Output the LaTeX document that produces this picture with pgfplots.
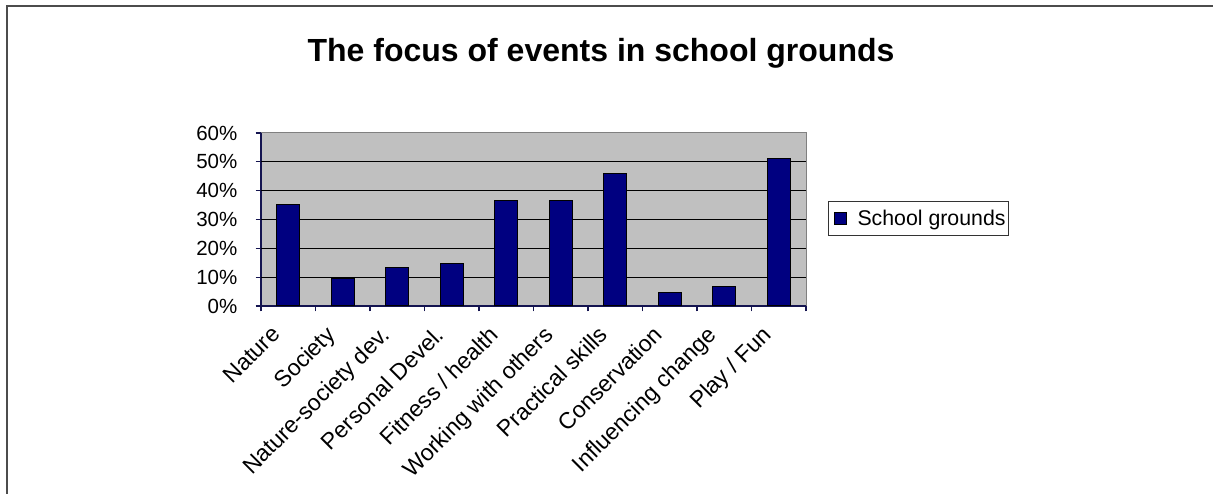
\documentclass[border=0pt]{standalone}
\usepackage{fontspec}
\setmainfont{Liberation Sans}
\usepackage{pgfplots}
\pgfplotsset{compat=1.18}
\definecolor{barnavy}{RGB}{0,0,128}
\definecolor{axisnavy}{RGB}{20,20,80}
\definecolor{plotgray}{RGB}{192,192,192}
\begin{document}
\begin{tikzpicture}[x=1bp,y=1bp]
\useasboundingbox (0,0) rectangle (1213,494);
\draw[line width=2bp, color=black!70] (6.5,0) -- (6.5,487.5) -- (1213,487.5);
\node[font=\fontsize{32bp}{38bp}\selectfont\bfseries, anchor=base] at (601,432) {The focus of events in school grounds};
\begin{axis}[
  at={(261bp,188bp)}, anchor=south west,
  width=545bp, height=173bp, scale only axis,
  xmin=-0.5, xmax=9.5, ymin=0, ymax=60,
  axis x line*=bottom, axis y line*=left,
  axis line style={axisnavy, line width=1.2bp},
  axis background/.style={fill=plotgray, draw=gray, line width=1bp},
  tick align=outside, major tick length=5.5bp,
  tick style={axisnavy, line width=1.2bp},
  xtick={-0.5,0.5,...,9.5}, xticklabels={},
  extra x ticks={0,1,2,3,4,5,6,7,8,9},
  extra x tick labels={Nature,Society,Nature-society dev.,Personal Devel.,Fitness / health,Working with others,Practical skills,Conservation,Influencing change,Play / Fun},
  extra x tick style={major tick length=0pt},
  ytick={0,10,...,60},
  yticklabel={\pgfmathprintnumber{\tick}\%},
  extra y ticks={10,20,30,40,50},
  extra y tick labels={},
  extra y tick style={grid=major, major tick length=0pt},
  major grid style={black, line width=1.2bp},
  /pgf/number format/assume math mode=true,
  yticklabel style={inner sep=0pt, xshift=-18bp, font=\fontsize{20.5bp}{24.5bp}\selectfont},
  xticklabel style={xshift=-18bp, yshift=-17bp, rotate=45, anchor=north east, inner sep=1bp, font=\fontsize{23bp}{27bp}\selectfont},
  legend style={at={(axis description cs:1.0404,0.607)}, anchor=north west,
    draw=black!80, line width=1bp, font=\fontsize{21.3bp}{25.5bp}\selectfont,
    inner xsep=1bp, inner ysep=6.5bp},
  legend cell align=left,
]
\addplot[ybar, bar width=22.6bp, fill=barnavy, draw=black, line width=1bp,
  legend image code/.code={\draw[fill=barnavy,draw=black,line width=1bp] (4bp,-6bp) rectangle (16bp,6bp); \path (0bp,0bp) (25bp,0bp);}]
  coordinates {(0,35.3) (1,9.6) (2,13.2) (3,14.6) (4,36.7) (5,36.7) (6,45.8) (7,4.75) (8,6.9) (9,51.2)};
\addlegendentry{School grounds}
\end{axis}
\end{tikzpicture}
\end{document}
